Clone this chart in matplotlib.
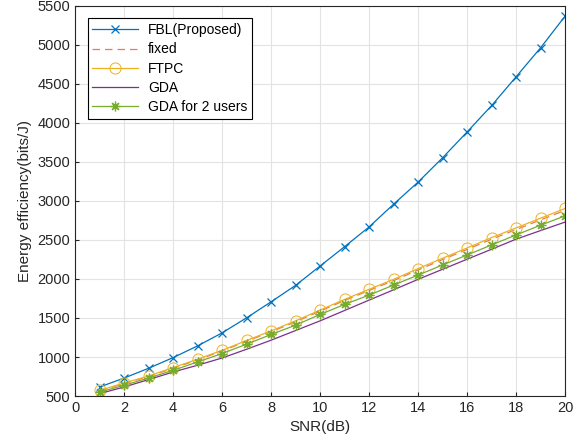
import numpy as np
import matplotlib
matplotlib.use('Agg')
import matplotlib.pyplot as plt

plt.rcParams['font.family'] = ['Liberation Sans', 'DejaVu Sans']

snr = np.arange(1, 21)

fbl = [616, 731, 856, 993, 1143, 1310, 1503, 1708, 1919, 2167,
       2415, 2668, 2960, 3243, 3555, 3886, 4224, 4593, 4965, 5371]
fixed = [566, 660, 750, 857, 963, 1078, 1202, 1325, 1452, 1589,
         1725, 1853, 1980, 2116, 2249, 2379, 2511, 2634, 2758, 2880]
ftpc = [573, 667, 757, 865, 972, 1087, 1212, 1336, 1464, 1602,
        1739, 1868, 1996, 2133, 2267, 2398, 2531, 2655, 2780, 2904]
gda = [531, 616, 711, 808, 895, 988, 1100, 1216, 1340, 1464,
       1597, 1730, 1862, 1996, 2125, 2254, 2382, 2511, 2621, 2730]
gda2 = [551, 638, 731, 830, 937, 1045, 1165, 1289, 1409, 1546,
        1675, 1794, 1923, 2051, 2180, 2308, 2437, 2565, 2690, 2810]

c_blue = (0, 0.447, 0.741)
c_orange = '#e8795a'
c_yellow = (0.929, 0.694, 0.125)
c_purple = (0.494, 0.184, 0.556)
c_green = (0.466, 0.674, 0.188)

fig = plt.figure(figsize=(5.87, 4.47), dpi=100)
ax = fig.add_axes([0.128, 0.114, 0.835, 0.873])

ax.plot(snr, fbl, color=c_blue, lw=0.9, marker='x', ms=6, mew=0.9, label='FBL(Proposed)')
ax.plot(snr, fixed, color=c_orange, lw=0.9, ls=(0, (6, 4)), label='fixed')
ax.plot(snr, ftpc, color=c_yellow, lw=0.9, marker='o', ms=8, mfc='none', mew=0.7, label='FTPC')
ax.plot(snr, gda, color=c_purple, lw=0.9, label='GDA')
ax.plot(snr, gda2, color=c_green, lw=0.9, marker=(8, 2, 0), ms=7, mew=0.9, label='GDA for 2 users')

ax.set_xlim(0, 20)
ax.set_ylim(500, 5500)
ax.set_xticks(np.arange(0, 21, 2))
ax.set_yticks(np.arange(500, 5501, 500))
ax.grid(True, color='#e3e3e3', lw=0.8)
ax.set_axisbelow(True)
ax.tick_params(direction='in', labelsize=10.5, colors='#262626', length=3)
for s in ax.spines.values():
    s.set_color('#262626')
    s.set_linewidth(0.8)

ax.set_xlabel('SNR(dB)', fontsize=11, color='#262626')
ax.set_ylabel('Energy efficiency(bits/J)', fontsize=11, color='#262626')

leg = ax.legend(loc='upper left', fontsize=10, fancybox=False, edgecolor='black',
                framealpha=1, borderaxespad=0.9, handlelength=3.3, labelspacing=0.38,
                borderpad=0.35, handletextpad=0.7)
leg.get_frame().set_linewidth(0.8)

fig.savefig('out.png', dpi=100)
